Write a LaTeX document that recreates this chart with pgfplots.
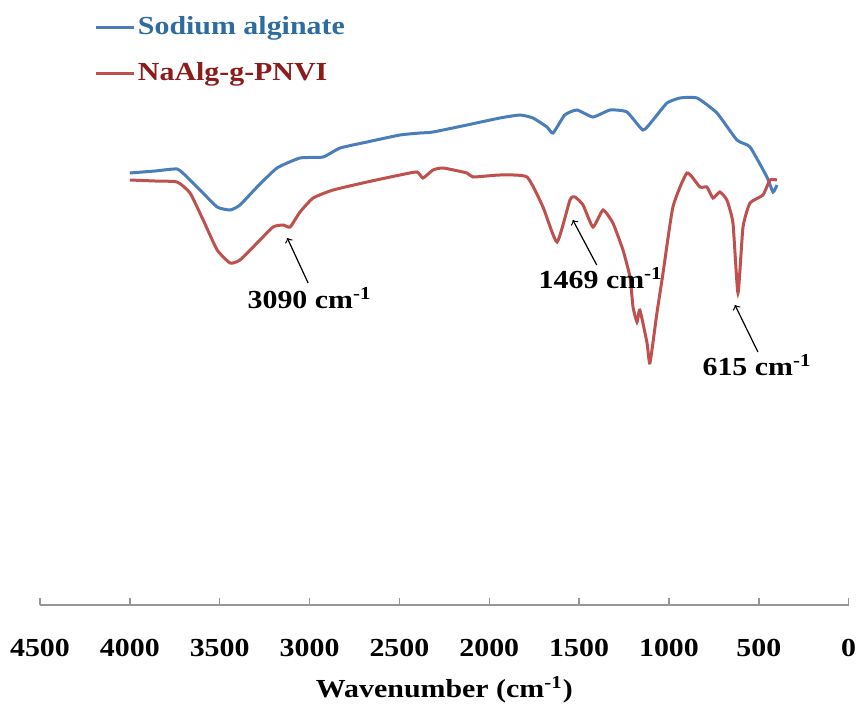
\documentclass[border=0pt]{standalone}
\usepackage{fontspec}
\setmainfont[FakeStretch=1.15]{Liberation Serif}
\usepackage{pgfplots}
\pgfplotsset{compat=1.18}
\definecolor{sablue}{RGB}{74,126,187}
\definecolor{sared}{RGB}{190,80,77}
\definecolor{sabluetext}{RGB}{46,108,160}
\definecolor{saredtext}{RGB}{140,28,28}
\definecolor{axgray}{RGB}{150,150,150}
\newcommand{\bigbf}{\fontsize{13}{15}\selectfont\bfseries}
\begin{document}
\begin{tikzpicture}
\path[use as bounding box] (-20pt,-49pt) rectangle (408.5pt,302.5pt);
\begin{axis}[
  at={(0,0)}, anchor=south west,
  width=404.35pt, height=302.5pt, scale only axis,
  xmin=0, xmax=4500, x dir=reverse,
  ymin=0, ymax=605,
  axis x line=bottom, axis y line=none,
  axis line style={-, draw=axgray, line width=0.75pt},
  xtick={0,500,...,4500},
  tick align=inside, major tick length=3.5pt,
  tick style={axgray, line width=0.75pt},
  xticklabel style={font=\bigbf, yshift=-13.5pt},
  /pgf/number format/assume math mode=true,
  /pgf/number format/1000 sep={},
  xlabel={Wavenumber (cm\textsuperscript{-1})},
  xlabel style={font=\bigbf, yshift=-3pt},
  clip=false,
  legend style={at={(rel axis cs:0.0675,0.98)}, anchor=north west, draw=none, fill=none,
    inner sep=0pt, row sep=8.5pt, font=\bigbf, nodes={inner xsep=1pt, inner ysep=2pt}},
  legend cell align=left,
  legend image code/.code={\draw[#1] (0pt,0pt) -- (19pt,0pt);},
]
\addplot[sablue, line width=1.5pt, smooth, tension=0.3] coordinates {
(4000,432) (3860,434) (3737,436) (3682,428) (3609,415) (3514,398) (3442,395) (3387,400)
(3292,418) (3181,437) (3053,447) (2925,448) (2830,457) (2680,463) (2497,470)
(2385,472) (2313,473) (2124,480) (1941,487) (1829,490) (1757,487) (1679,478)
(1645,472) (1580,490) (1512,495) (1423,488) (1328,495) (1234,493) (1145,475) (1089,485)
(1011,502) (939,507) (844,507) (733,492) (622,465) (549,458) (455,428)
(421,413) (399,420)
};
\addlegendentry{\textcolor{sabluetext}{Sodium alginate}}
\addplot[sared, line width=1.5pt, smooth, tension=0.3] coordinates {
(4000,425) (3860,424) (3737,423) (3665,412) (3592,385) (3514,355) (3442,342) (3387,345)
(3292,362) (3203,378) (3147,380) (3108,378) (3053,393) (2980,407) (2869,415)
(2680,423) (2497,430) (2402,433) (2369,427) (2313,435) (2257,437) (2124,432)
(2090,428) (1941,430) (1790,428) (1701,398) (1623,363) (1551,405) (1523,408)
(1478,400) (1423,378) (1367,395) (1312,382) (1256,355) (1217,328) (1200,298)
(1178,283) (1162,295) (1122,262) (1106,242) (1067,292) (1033,332) (978,398)
(900,432) (828,418) (789,418) (755,407) (717,413) (678,405) (644,382)
(616,312) (588,378) (549,402) (477,410) (438,425) (399,425)
};
\addlegendentry{\textcolor{saredtext}{NaAlg-g-PNVI}}
\draw[->, line width=0.6pt] (axis cs:3008,322) -- (axis cs:3124,367);
\node[font=\bigbf] at (axis cs:3000,307) {3090 cm\textsuperscript{-1}};
\draw[->, line width=0.6pt] (axis cs:1402,340) -- (axis cs:1535,385);
\node[font=\bigbf] at (axis cs:1380,327) {1469 cm\textsuperscript{-1}};
\draw[->, line width=0.6pt] (axis cs:505,253) -- (axis cs:633,300);
\node[font=\bigbf] at (axis cs:510,240) {615 cm\textsuperscript{-1}};
\end{axis}
\end{tikzpicture}
\end{document}
